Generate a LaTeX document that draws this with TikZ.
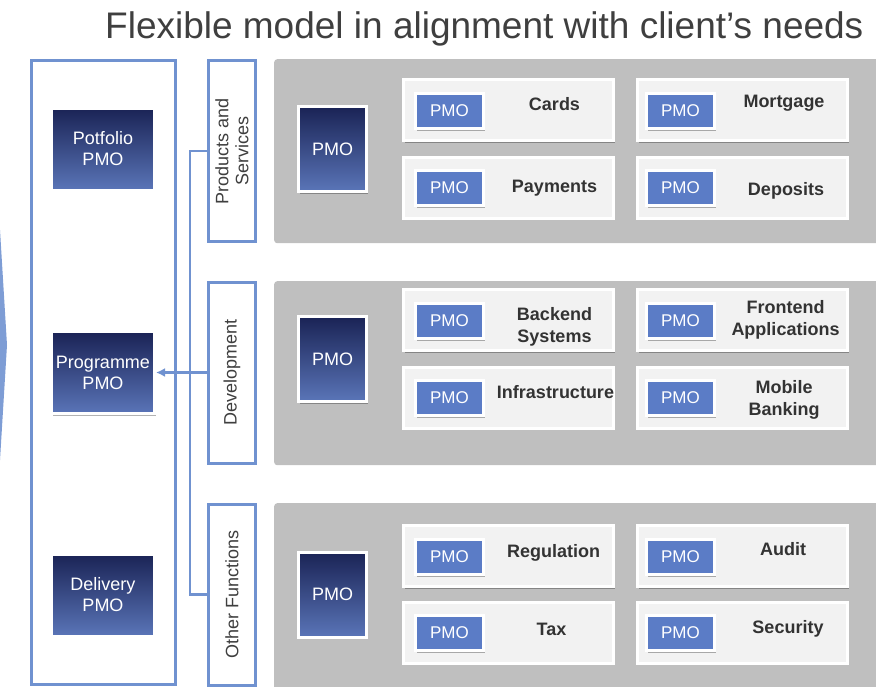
\documentclass[tikz,border=0pt]{standalone}
\usepackage{fontspec}
\setmainfont{Liberation Sans}
\usetikzlibrary{shadows,arrows.meta,calc}
\definecolor{edgeblue}{HTML}{7092D0}
\definecolor{navytop}{HTML}{1A2355}
\definecolor{navybot}{HTML}{5A75B8}
\definecolor{pmoblue}{HTML}{5B7CC6}
\definecolor{panelgray}{HTML}{BFBFBF}
\definecolor{cardgray}{HTML}{F2F2F2}
\definecolor{inkgray}{HTML}{3F3F3F}
\definecolor{labelgray}{HTML}{333333}
\begin{document}
\begin{tikzpicture}[x=1pt,y=-1pt,
  softshadow/.style={drop shadow={shadow xshift=1.5pt,shadow yshift=-2pt,opacity=0.3,fill=black}},
  frame/.style={draw=edgeblue,line width=3pt,inner sep=0pt},
  catbox/.style={frame,fill=white,rotate=90,minimum width=181pt,minimum height=47pt,
    align=center,text=inkgray,font=\fontsize{18}{20}\selectfont},
  bandpanel/.style={fill=panelgray,rounded corners=3pt,inner sep=0pt},
  navybox/.style={draw=white,line width=3pt,top color=navytop,bottom color=navybot,
    softshadow,inner sep=0pt,text=white,align=center,font=\fontsize{18}{21}\selectfont},
  leadpmo/.style={navybox,minimum width=103pt,minimum height=82pt},
  bandpmo/.style={navybox,minimum width=68pt,minimum height=85pt},
  card/.style={draw=white,line width=3pt,fill=cardgray,softshadow,inner sep=0pt,
    minimum width=210pt,minimum height=61pt},
  minipmo/.style={draw=white,line width=3pt,fill=pmoblue,softshadow,inner sep=0pt,
    minimum width=68pt,minimum height=35pt,text=white,font=\fontsize{17}{20}\selectfont},
  cardlabel/.style={inner sep=0pt,align=center,text=labelgray,
    font=\bfseries\fontsize{18}{22}\selectfont},
  conn/.style={draw=edgeblue,line width=2.5pt}]

\useasboundingbox (0,0) rectangle (876,686);

% title
\node[anchor=base west,inner sep=0pt,text=inkgray,font=\fontsize{37}{44}\selectfont]
  (title) at (105,38) {Flexible model in alignment with client’s needs};

% tip of the chevron cut by the left edge
\fill[edgeblue!90] (0,230) -- (7,345) -- (0,460) -- cycle;

% left column with the three lead PMOs
\node[frame,minimum width=144pt,minimum height=624pt] (leadcol) at (103,372) {};
\node[leadpmo] (portfolio) at (103,149) {Potfolio\\PMO};
\node[leadpmo] (programme) at (103,372.5) {Programme\\PMO};
\node[leadpmo] (delivery) at (103,595) {Delivery\\PMO};

% category boxes
\node[catbox] (prodserv) at (232,151) {Products and\\Services};
\node[catbox] (develop) at (232,372.5) {Development};
\node[catbox] (otherfn) at (232,594.5) {Other Functions};

% grey bands
\node[bandpanel,minimum width=610pt,minimum height=184pt,anchor=north west] (band1) at (274,59) {};
\node[bandpanel,minimum width=610pt,minimum height=184pt,anchor=north west] (band2) at (274,281) {};
\node[bandpanel,minimum width=610pt,minimum height=190pt,anchor=north west] (band3) at (274,503) {};

% band PMOs
\node[bandpmo] (pmoA) at (332.5,149) {PMO};
\node[bandpmo] (pmoB) at (332.5,359) {PMO};
\node[bandpmo] (pmoC) at (332.5,594.5) {PMO};

% cards: band 1
\node[card] (cards) at (508.5,110) {};
\node[card] (mortgage) at (742.5,110) {};
\node[card] (payments) at (508.5,187.5) {};
\node[card] (deposits) at (742.5,187.5) {};
% cards: band 2
\node[card] (backend) at (508.5,320) {};
\node[card] (frontend) at (742.5,320) {};
\node[card] (infra) at (508.5,397.5) {};
\node[card] (mobile) at (742.5,397.5) {};
% cards: band 3
\node[card] (regul) at (508.5,556) {};
\node[card] (audit) at (742.5,556) {};
\node[card] (tax) at (508.5,632.5) {};
\node[card] (security) at (742.5,632.5) {};

% small PMO tags
\foreach \c/\x/\y in {cards/449.5/111, mortgage/680.5/111, payments/449.5/188, deposits/680.5/188,
  backend/449.5/321, frontend/680.5/321, infra/449.5/398, mobile/680.5/398,
  regul/449.5/557, audit/680.5/557, tax/449.5/633, security/680.5/633}
  \node[minipmo] (tag-\c) at (\x,\y) {PMO};

% card labels
\node[cardlabel] (l-cards) at (554.5,104) {Cards};
\node[cardlabel] (l-mortgage) at (784,103) {Mortgage};
\node[cardlabel] (l-payments) at (554.5,188) {Payments};
\node[cardlabel] (l-deposits) at (786,191) {Deposits};
\node[cardlabel] (l-backend) at (554.5,327) {Backend\\Systems};
\node[cardlabel] (l-frontend) at (785.5,320) {Frontend\\Applications};
\node[cardlabel] (l-infra) at (555.5,392) {Infrastructure};
\node[cardlabel] (l-mobile) at (784,400) {Mobile\\Banking};
\node[cardlabel] (l-regul) at (553.5,553) {Regulation};
\node[cardlabel] (l-audit) at (783,549) {Audit};
\node[cardlabel] (l-tax) at (551.5,629) {Tax};
\node[cardlabel] (l-security) at (788,629) {Security};

% connectors
\draw[conn] (prodserv.north) -- ++(-17,0) |- (otherfn.north);
\draw[conn,-{Latex[length=9pt,width=9pt]}] (develop.north) -- (programme.east);
\end{tikzpicture}
\end{document}
